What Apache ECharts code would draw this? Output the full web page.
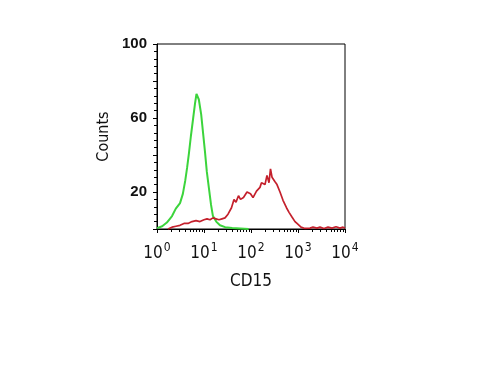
<!DOCTYPE html>
<html>
<head>
<meta charset="utf-8">
<script src="https://cdn.jsdelivr.net/npm/echarts@6/dist/echarts.min.js"></script>
<style>
html,body{margin:0;padding:0;background:#fff;}
#chart{width:500px;height:375px;}
</style>
</head>
<body>
<div id="chart"></div>
<script>
// x positions as log10(CD15 intensity), counts
var greenLog = [0.00,0.11,0.21,0.32,0.40,0.49,0.55,0.60,0.64,0.68,0.72,0.77,0.81,0.84,0.86,0.89,0.94,0.98,1.02,1.06,1.11,1.15,1.19,1.26,1.34,1.45,1.60,1.77,1.95];
var greenCounts = [0.5,1.5,3.5,7,11,14,19,26,33,41,50,60,68,73,74,70,62,52,42,31,21,13,7,4,2,1,0.5,0.3,0];

var redLog = [0.234,0.319,0.404,0.489,0.574,0.660,0.745,0.830,0.915,1.000,1.064,1.128,1.191,1.255,1.319,1.383,1.447,1.511,1.585,1.638,1.681,1.734,1.777,1.840,1.915,1.989,2.043,2.117,2.149,2.191,2.223,2.255,2.298,2.340,2.383,2.415,2.447,2.479,2.511,2.553,2.617,2.681,2.755,2.809,2.872,2.936,2.979,3.064,3.149,3.255,3.319,3.404,3.468,3.553,3.638,3.723,3.809,3.894,3.957,4.000];
var redCounts = [0,1,1.5,2,3,3,4,4.5,4,5,5.5,5,6,5.5,5,5.5,6,8,11.5,16,14.5,18,16,17,20,19,17,20.5,20,22.5,25,26,24,29,25,32.5,28,27,25.5,24,20,15.5,11.5,9,6.5,4,3,1,0.3,0.5,1,0.5,1,0.3,1,0.5,1.2,0.5,1,0.5];

var yLabels = [20, 60, 100];
var xExponents = ['0','1','2','3','4'];

function pairs(lg, c){
  return lg.map(function(v,i){ return [Math.pow(10, v), c[i]]; });
}

var chart = echarts.init(document.getElementById('chart'), null, {renderer:'canvas'});
var font = '"Liberation Sans", Arial, sans-serif';
var narrow = '"Liberation Sans Narrow", "DejaVu Sans Condensed", Arial, sans-serif';
chart.setOption({
  animation:false,
  backgroundColor:'#fff',
  grid:{left:157,right:155,top:44,bottom:146,show:true,borderColor:'#000',borderWidth:1,backgroundColor:'transparent'},
  xAxis:{
    type:'log', min:1, max:10000, logBase:10,
    name:'CD15', nameLocation:'middle', nameGap:44,
    nameTextStyle:{fontFamily:narrow,fontSize:17,color:'#111'},
    axisLine:{show:true,lineStyle:{color:'#000',width:1}},
    axisTick:{show:true,length:4,inside:false,lineStyle:{color:'#000'}},
    minorTick:{show:true,splitNumber:9,length:3,lineStyle:{color:'#000'}},
    splitLine:{show:false},
    axisLabel:{
      margin:3,
      formatter:function(v){
        var e = Math.round(Math.log10(v));
        return '{b|10}{s|' + xExponents[e] + '}';
      },
      rich:{
        b:{fontFamily:narrow,fontSize:17,lineHeight:30,verticalAlign:'bottom',color:'#111'},
        s:{fontFamily:narrow,fontSize:12,lineHeight:30,verticalAlign:'bottom',color:'#111',padding:[0,0,8,1]}
      }
    }
  },
  yAxis:{
    type:'value', min:0, max:100, interval:20,
    name:'Counts', nameLocation:'middle', nameGap:45, nameRotate:90,
    nameTextStyle:{fontFamily:narrow,fontSize:16,color:'#111'},
    axisLine:{show:true,lineStyle:{color:'#000',width:1}},
    axisTick:{show:true,length:4,inside:false,lineStyle:{color:'#000'}},
    minorTick:{show:true,splitNumber:5,length:3,lineStyle:{color:'#000'}},
    splitLine:{show:false},
    axisLabel:{
      margin:10, fontFamily:font, fontSize:15, fontWeight:'bold', color:'#111',
      formatter:function(v){ return yLabels.indexOf(v) >= 0 ? String(v) : ''; }
    }
  },
  series:[
    {type:'line', data:pairs(greenLog, greenCounts), showSymbol:false, symbol:'none',
     lineStyle:{color:'#3cd43c',width:2}, z:2},
    {type:'line', data:pairs(redLog, redCounts), showSymbol:false, symbol:'none',
     lineStyle:{color:'#c4202c',width:1.7}, z:3}
  ]
});
</script>
</body>
</html>
